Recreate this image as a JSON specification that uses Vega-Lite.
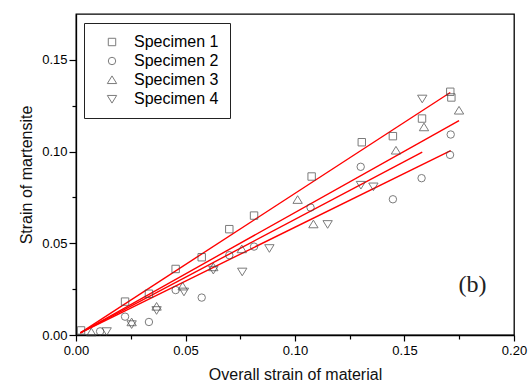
{
  "$schema": "https://vega.github.io/schema/vega-lite/v6.json",
  "width": 438,
  "height": 321,
  "autosize": {"type": "none"},
  "padding": {"left": 76, "top": 14, "right": 15, "bottom": 50},
  "background": "white",
  "config": {
    "font": "Liberation Sans",
    "view": {"stroke": "black", "strokeWidth": 1.3},
    "axis": {
      "domainColor": "black",
      "domainWidth": 1.3,
      "tickColor": "black",
      "tickWidth": 1.2,
      "grid": false,
      "labelFlush": false,
      "labelOverlap": false,
      "labelColor": "black",
      "titleColor": "#111",
      "labelFont": "Liberation Sans",
      "titleFont": "Liberation Sans",
      "labelFontSize": 13,
      "titleFontSize": 16,
      "titleFontWeight": "normal"
    }
  },
  "datasets": {
    "points": [
      {"specimen": "Specimen 1", "overall": 0.0023, "martensite": 0.0025},
      {"specimen": "Specimen 1", "overall": 0.0224, "martensite": 0.0182},
      {"specimen": "Specimen 1", "overall": 0.0333, "martensite": 0.0225},
      {"specimen": "Specimen 1", "overall": 0.0455, "martensite": 0.036},
      {"specimen": "Specimen 1", "overall": 0.0574, "martensite": 0.0424},
      {"specimen": "Specimen 1", "overall": 0.070, "martensite": 0.0577},
      {"specimen": "Specimen 1", "overall": 0.0813, "martensite": 0.0651},
      {"specimen": "Specimen 1", "overall": 0.1076, "martensite": 0.0864},
      {"specimen": "Specimen 1", "overall": 0.1305, "martensite": 0.1051},
      {"specimen": "Specimen 1", "overall": 0.1447, "martensite": 0.1084},
      {"specimen": "Specimen 1", "overall": 0.158, "martensite": 0.118},
      {"specimen": "Specimen 1", "overall": 0.1709, "martensite": 0.1326},
      {"specimen": "Specimen 1", "overall": 0.1714, "martensite": 0.1295},
      {"specimen": "Specimen 2", "overall": 0.011, "martensite": 0.002},
      {"specimen": "Specimen 2", "overall": 0.0224, "martensite": 0.010},
      {"specimen": "Specimen 2", "overall": 0.0333, "martensite": 0.0071},
      {"specimen": "Specimen 2", "overall": 0.0455, "martensite": 0.0245},
      {"specimen": "Specimen 2", "overall": 0.0574, "martensite": 0.0204},
      {"specimen": "Specimen 2", "overall": 0.070, "martensite": 0.0435},
      {"specimen": "Specimen 2", "overall": 0.0813, "martensite": 0.0482},
      {"specimen": "Specimen 2", "overall": 0.1071, "martensite": 0.0695},
      {"specimen": "Specimen 2", "overall": 0.130, "martensite": 0.0917},
      {"specimen": "Specimen 2", "overall": 0.1447, "martensite": 0.074},
      {"specimen": "Specimen 2", "overall": 0.1578, "martensite": 0.0855},
      {"specimen": "Specimen 2", "overall": 0.1711, "martensite": 0.1093},
      {"specimen": "Specimen 2", "overall": 0.1708, "martensite": 0.0982},
      {"specimen": "Specimen 3", "overall": 0.007, "martensite": 0.0015},
      {"specimen": "Specimen 3", "overall": 0.0254, "martensite": 0.0070},
      {"specimen": "Specimen 3", "overall": 0.0368, "martensite": 0.0155},
      {"specimen": "Specimen 3", "overall": 0.0487, "martensite": 0.0265},
      {"specimen": "Specimen 3", "overall": 0.0627, "martensite": 0.0370},
      {"specimen": "Specimen 3", "overall": 0.0757, "martensite": 0.0468},
      {"specimen": "Specimen 3", "overall": 0.1012, "martensite": 0.0737},
      {"specimen": "Specimen 3", "overall": 0.1084, "martensite": 0.0604},
      {"specimen": "Specimen 3", "overall": 0.1461, "martensite": 0.1006},
      {"specimen": "Specimen 3", "overall": 0.1589, "martensite": 0.1133},
      {"specimen": "Specimen 3", "overall": 0.1749, "martensite": 0.1224},
      {"specimen": "Specimen 4", "overall": 0.014, "martensite": 0.002},
      {"specimen": "Specimen 4", "overall": 0.0254, "martensite": 0.0058},
      {"specimen": "Specimen 4", "overall": 0.0368, "martensite": 0.0135},
      {"specimen": "Specimen 4", "overall": 0.0493, "martensite": 0.0236},
      {"specimen": "Specimen 4", "overall": 0.0627, "martensite": 0.0355},
      {"specimen": "Specimen 4", "overall": 0.0759, "martensite": 0.0345},
      {"specimen": "Specimen 4", "overall": 0.0883, "martensite": 0.0473},
      {"specimen": "Specimen 4", "overall": 0.1149, "martensite": 0.0604},
      {"specimen": "Specimen 4", "overall": 0.1301, "martensite": 0.0818},
      {"specimen": "Specimen 4", "overall": 0.1358, "martensite": 0.0809},
      {"specimen": "Specimen 4", "overall": 0.1581, "martensite": 0.1288}
    ],
    "fits": [
      {"specimen": "Specimen 1", "overall": 0.002, "martensite": 0.0012},
      {"specimen": "Specimen 1", "overall": 0.1709, "martensite": 0.1322},
      {"specimen": "Specimen 2", "overall": 0.002, "martensite": 0.0012},
      {"specimen": "Specimen 2", "overall": 0.1711, "martensite": 0.1005},
      {"specimen": "Specimen 3", "overall": 0.002, "martensite": 0.0012},
      {"specimen": "Specimen 3", "overall": 0.1749, "martensite": 0.1169},
      {"specimen": "Specimen 4", "overall": 0.002, "martensite": 0.0012},
      {"specimen": "Specimen 4", "overall": 0.1581, "martensite": 0.0997}
    ],
    "label": [{"text": "(b)"}]
  },
  "layer": [
    {
      "data": {"name": "fits"},
      "mark": {"type": "line", "color": "#ff0000", "strokeWidth": 1.4},
      "encoding": {
        "x": {"field": "overall", "type": "quantitative",
              "scale": {"domain": [0, 0.2], "nice": false, "zero": false},
              "axis": {"orient": "bottom", "values": [0.025, 0.075, 0.125, 0.175], "labels": false, "domain": false, "tickSize": 4, "title": null}},
        "y": {"field": "martensite", "type": "quantitative",
              "scale": {"domain": [0, 0.175], "nice": false, "zero": false},
              "axis": {"orient": "left", "values": [0.025, 0.075, 0.125], "labels": false, "domain": false, "tickSize": 4, "title": null}},
        "detail": {"field": "specimen"}
      }
    },
    {
      "data": {"name": "points"},
      "mark": {"type": "point", "filled": false, "color": "#444", "strokeWidth": 1, "size": 55},
      "encoding": {
        "x": {"field": "overall", "type": "quantitative",
              "axis": {"orient": "bottom", "values": [0, 0.05, 0.1, 0.15, 0.2], "format": ".2f", "tickSize": 6, "labelPadding": 3, "title": "Overall strain of material", "titlePadding": 9}},
        "y": {"field": "martensite", "type": "quantitative",
              "axis": {"orient": "left", "values": [0, 0.05, 0.1, 0.15], "format": ".2f", "tickSize": 7, "labelPadding": 2, "title": "Strain of martensite", "titlePadding": 7}},
        "shape": {"field": "specimen", "type": "nominal",
                  "scale": {"domain": ["Specimen 1", "Specimen 2", "Specimen 3", "Specimen 4"],
                            "range": ["square", "circle", "M0,-1.1L1.26,0.96L-1.26,0.96Z", "M0,1.1L1.26,-0.96L-1.26,-0.96Z"]},
                  "legend": {"title": null, "orient": "none", "legendX": 8, "legendY": 9,
                             "strokeColor": "#222", "fillColor": "white", "padding": 11,
                             "symbolOffset": 9, "labelOffset": 14, "labelFontSize": 16,
                             "labelFont": "Liberation Sans", "labelColor": "black",
                             "rowPadding": 3, "symbolSize": 55, "symbolStrokeColor": "#444",
                             "symbolStrokeWidth": 1}}
      }
    },
    {
      "data": {"name": "label"},
      "mark": {"type": "text", "font": "Liberation Serif", "fontSize": 24, "color": "#222", "align": "center", "baseline": "middle"},
      "encoding": {
        "text": {"field": "text"},
        "x": {"datum": 0.181, "type": "quantitative", "axis": null},
        "y": {"datum": 0.027, "type": "quantitative", "axis": null}
      }
    }
  ],
  "resolve": {"axis": {"x": "independent", "y": "independent"}}
}
